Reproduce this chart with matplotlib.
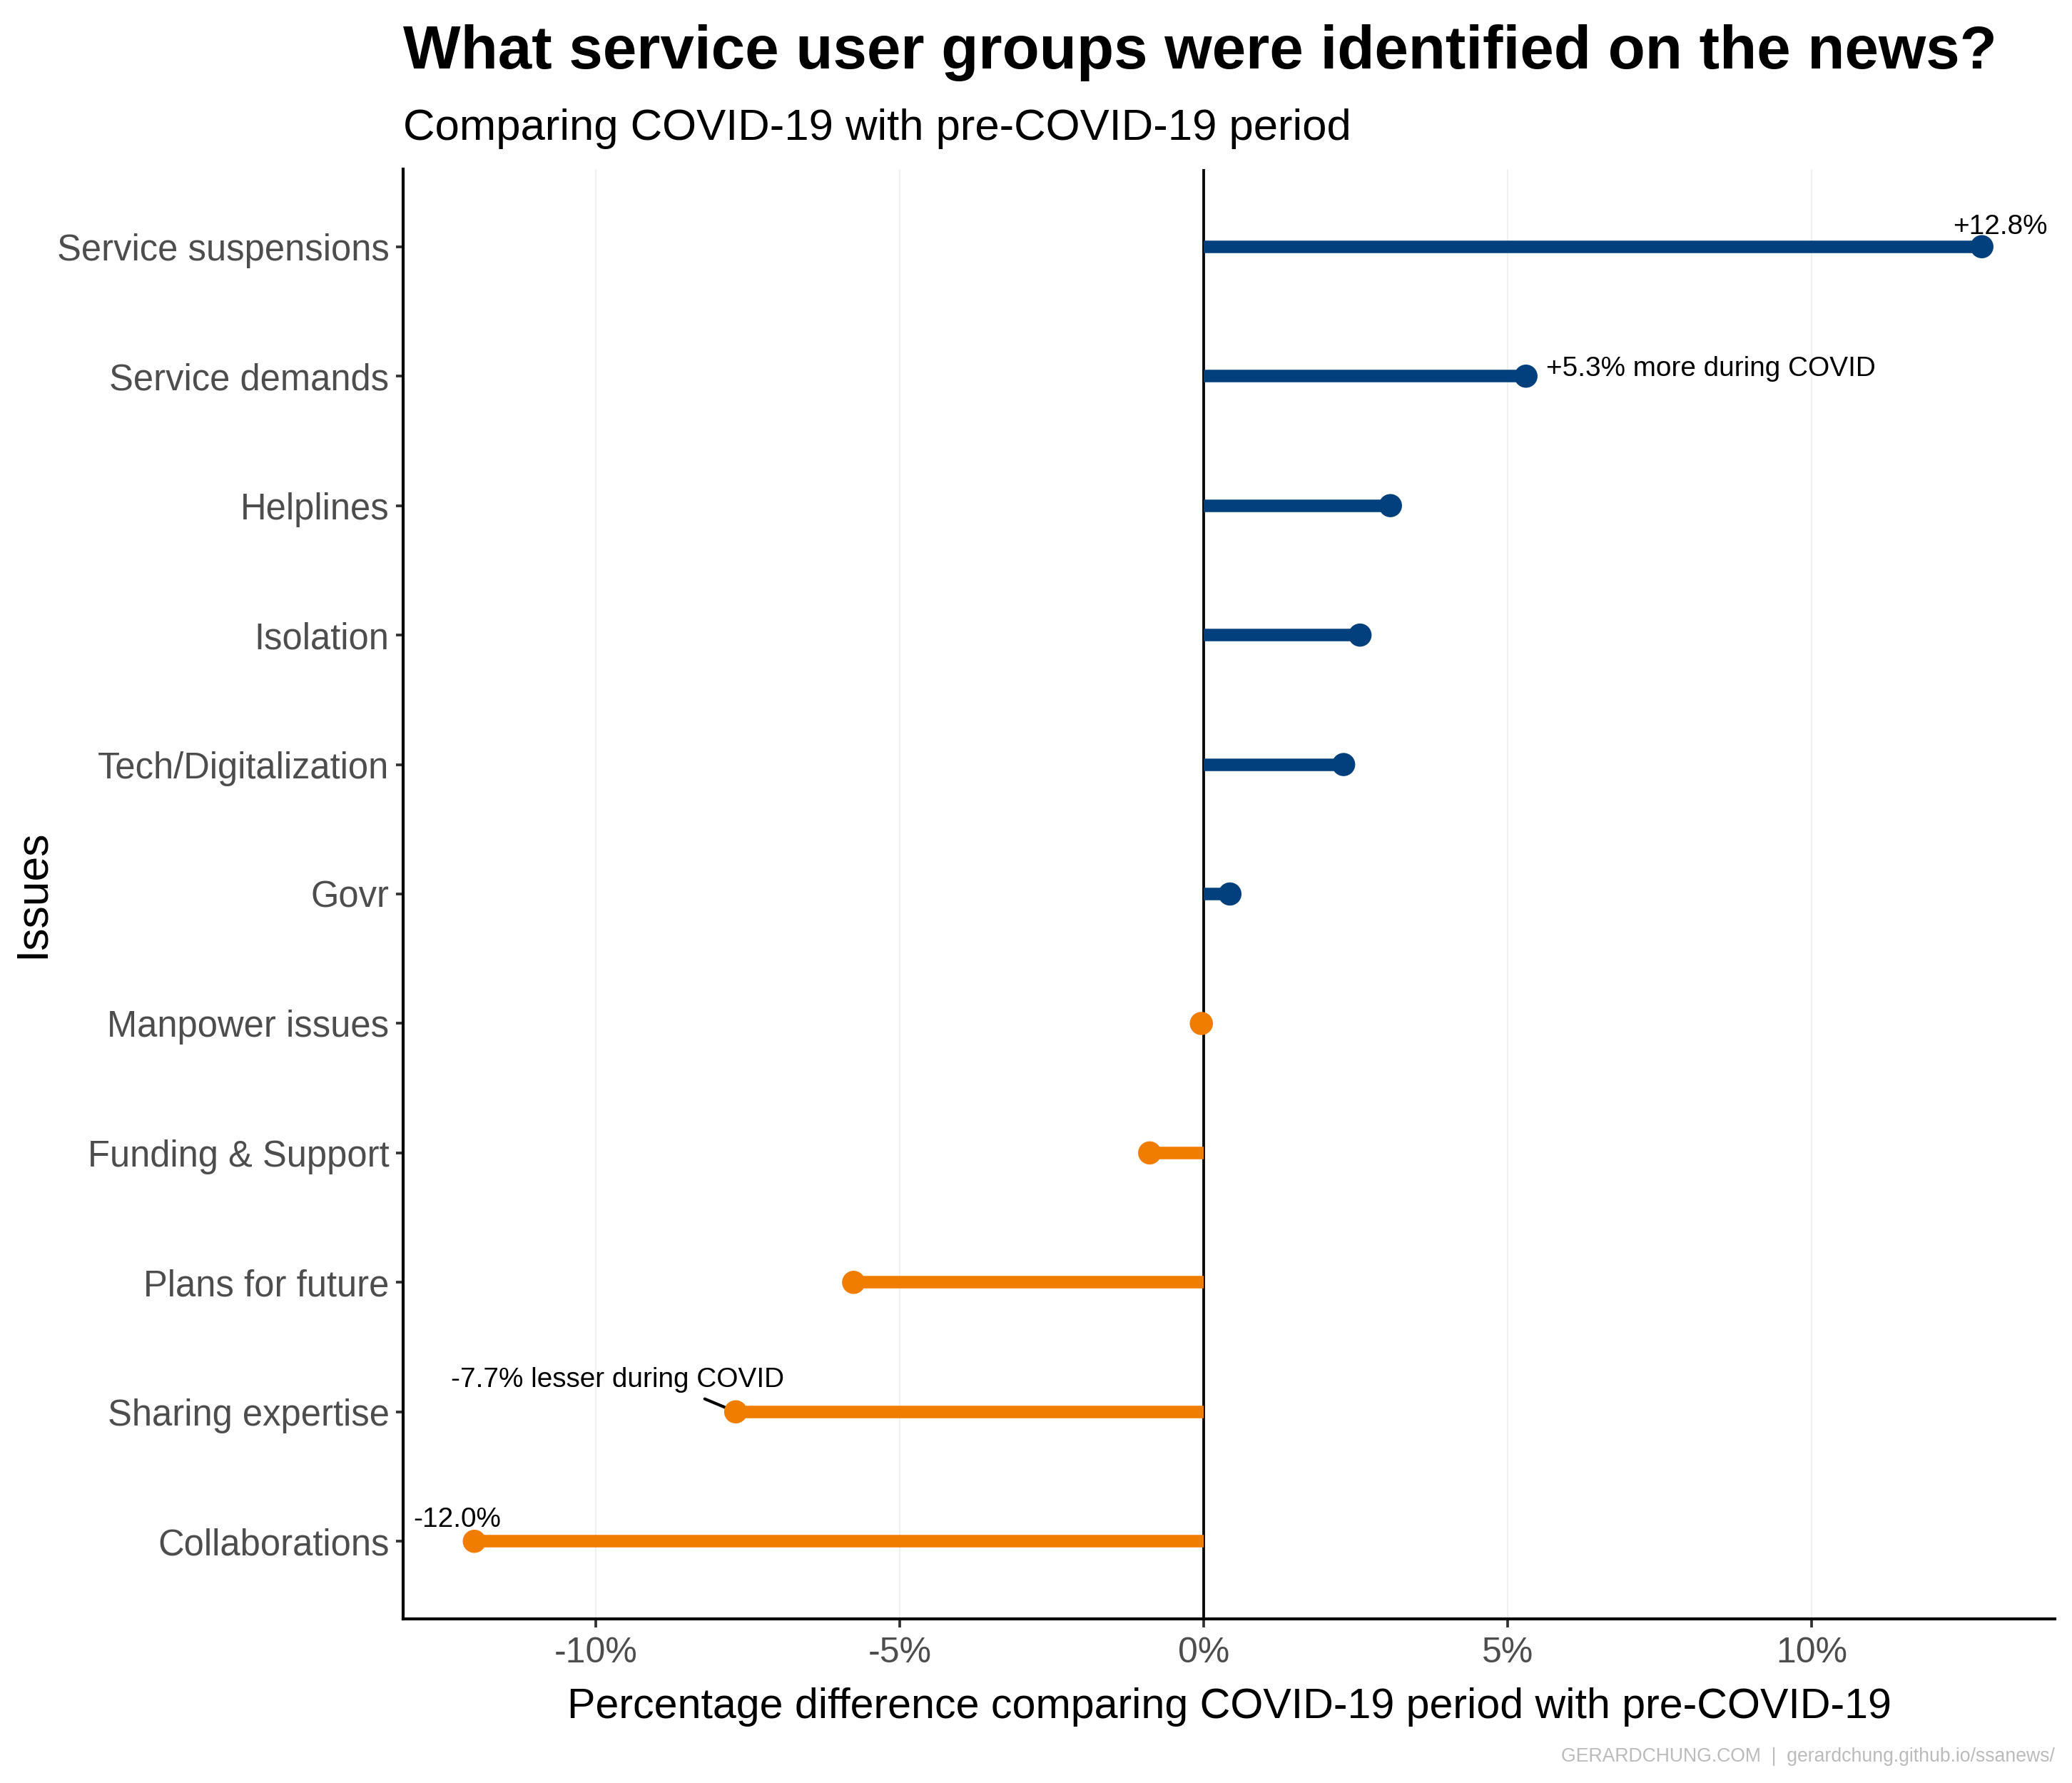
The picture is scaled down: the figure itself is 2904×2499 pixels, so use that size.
import numpy as np
import matplotlib.pyplot as plt

# data, bottom to top
issues = ['Collaborations', 'Sharing expertise', 'Plans for future', 'Funding & Support',
          'Manpower issues', 'Govr', 'Tech/Digitalization', 'Isolation', 'Helplines',
          'Service demands', 'Service suspensions']
diff_pct = [-12.0, -7.7, -5.76, -0.89, -0.04, 0.43, 2.3, 2.57, 3.07, 5.3, 12.8]
xticks = [-10, -5, 0, 5, 10]

BLUE = '#023F7D'
ORANGE = '#F07C00'

plt.rcParams['font.family'] = ['Liberation Sans', 'DejaVu Sans']

fig = plt.figure(figsize=(9.68, 8.33), dpi=300)
ax = fig.add_axes([0.1946, 0.0920, 0.9917 - 0.1946, 0.9052 - 0.0920])

y = np.arange(1, len(issues) + 1)
vals = np.array(diff_pct)
colors = [BLUE if v > 0 else ORANGE for v in vals]

for xi, yi, c in zip(vals, y, colors):
    ax.plot([0, xi], [yi, yi], color=c, lw=4.2, solid_capstyle='butt', zorder=3)
ax.scatter(vals, y, s=7.8 ** 2, c=colors, zorder=4, linewidths=0)

ax.axvline(0, color='black', lw=0.9, zorder=2)
for t in xticks:
    if t != 0:
        ax.axvline(t, color='#F0F0F0', lw=0.5, zorder=0)

ax.set_xlim(-13.17, 14.0)
ax.set_ylim(0.4, 11.6)
ax.set_yticks(y)
ax.set_yticklabels(issues, fontsize=12.2, color='#4D4D4D')
ax.set_xticks(xticks)
ax.set_xticklabels([f'{t}%' for t in xticks], fontsize=12, color='#4D4D4D')
ax.tick_params(axis='both', width=0.9, color='#333333')
ax.tick_params(axis='y', length=2.5, pad=2.2)
ax.tick_params(axis='x', length=2.8, pad=3.2)

for s in ['top', 'right']:
    ax.spines[s].set_visible(False)
for s in ['left', 'bottom']:
    ax.spines[s].set_linewidth(1.0)
    ax.spines[s].set_color('black')

ax.set_xlabel('Percentage difference comparing COVID-19 period with pre-COVID-19', fontsize=14.2, labelpad=6)
ax.set_ylabel('Issues', fontsize=15)
ax.yaxis.set_label_coords(-0.212, 0.5)

# annotations
ax.text(13.1, 11.1, f'+{diff_pct[10]}%', fontsize=9.3, ha='center', va='baseline')
ax.text(5.63, 10.0, f'+{diff_pct[9]}% more during COVID', fontsize=9.3, ha='left', va='baseline')
ax.annotate(f'{diff_pct[1]}% lesser during COVID', xy=(diff_pct[1], 2.0), xytext=(-9.65, 2.19),
            fontsize=9.3, ha='center', va='baseline',
            arrowprops=dict(arrowstyle='-', color='black', lw=1.0, shrinkA=0, shrinkB=0,
                            relpos=(0.72, 0)))
ax.text(-12.28, 1.11, f'{diff_pct[0]:.1f}%', fontsize=9.3, ha='center', va='baseline')

fig.text(0.1946, 0.9616, 'What service user groups were identified on the news?',
         fontsize=20.5, fontweight='bold', ha='left', va='baseline')
fig.text(0.1946, 0.9215, 'Comparing COVID-19 with pre-COVID-19 period',
         fontsize=14.8, ha='left', va='baseline')
fig.text(0.9917, 0.012, 'GERARDCHUNG.COM  |  gerardchung.github.io/ssanews/',
         fontsize=6.4, color='#BBBBBB', ha='right', va='baseline')

fig.savefig('out.png', dpi=300, facecolor='white')
